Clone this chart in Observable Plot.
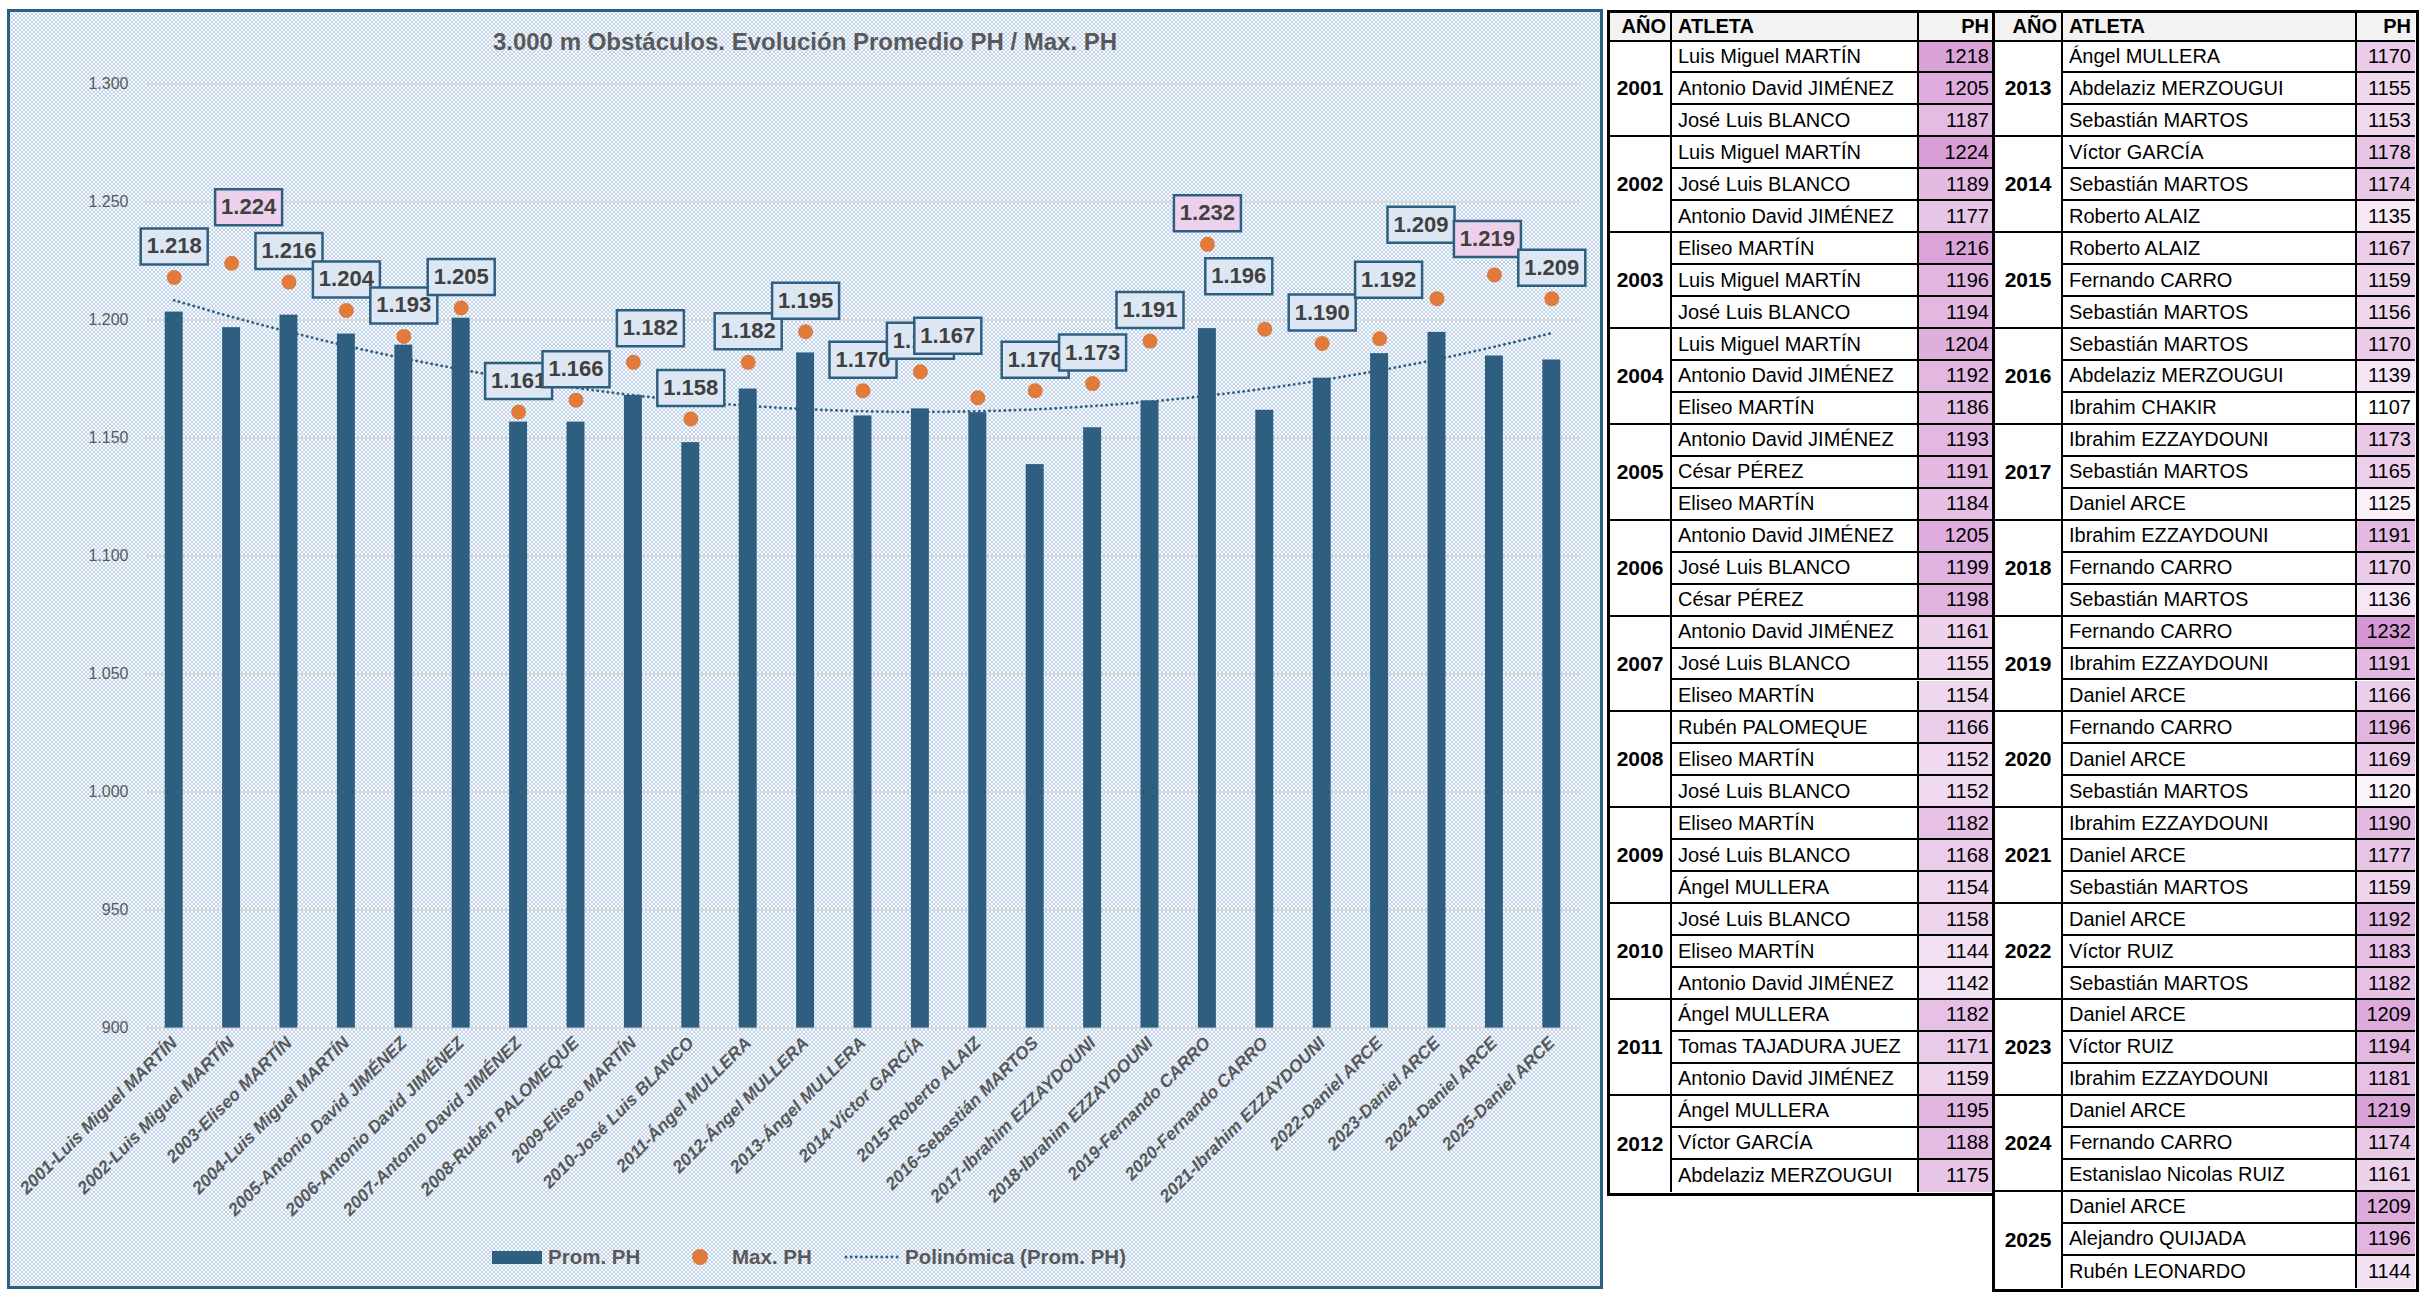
<!DOCTYPE html>
<html>
<head>
<meta charset="utf-8">
<script src="https://cdn.jsdelivr.net/npm/d3@7"></script>
<script src="https://cdn.jsdelivr.net/npm/@observablehq/plot@0.6"></script>
<style>
  html, body { margin: 0; padding: 0; background: #fff; }
  body { width: 2426px; height: 1306px; position: relative; overflow: hidden; font-family: "Liberation Sans", Arial, sans-serif; }
  #panel { position: absolute; left: 7px; top: 9px; width: 1590px; height: 1274px; border: 3px solid #2e5f80;
    background-color: #fbfcfe;
    background-image: radial-gradient(circle, #bfd2ea 0.75px, transparent 1px), radial-gradient(circle, #bfd2ea 0.75px, transparent 1px);
    background-size: 4px 4px, 4px 4px; background-position: 0 0, 2px 2px; }
  #title { position: absolute; left: 0; width: 1610px; top: 28px; text-align: center; font-weight: bold; font-size: 24px; color: #595959; }
  #chart { position: absolute; left: 0; top: 60px; }
  .leg { position: absolute; font-weight: bold; font-size: 20.5px; color: #595959; line-height: 24px; }
  .cell { position: absolute; box-sizing: border-box; font-size: 20px; color: #000; white-space: nowrap; display: flex; align-items: center; overflow: hidden; }
  .tbl { position: absolute; box-sizing: border-box; border: 3.5px solid #000; background: #fff; }
</style>
</head>
<body>
<div id="panel"></div>
<div id="title">3.000 m Obstáculos. Evolución Promedio PH / Max. PH</div>
<div id="chart"></div>
<div id="legend"></div>
<div id="tables"></div>
<script>
// ---------- DATA ----------
const years = [2001,2002,2003,2004,2005,2006,2007,2008,2009,2010,2011,2012,2013,2014,2015,2016,2017,2018,2019,2020,2021,2022,2023,2024,2025];
const xLabels = ["2001-Luis Miguel MARTÍN","2002-Luis Miguel MARTÍN","2003-Eliseo MARTÍN","2004-Luis Miguel MARTÍN","2005-Antonio David JIMÉNEZ","2006-Antonio David JIMÉNEZ","2007-Antonio David JIMÉNEZ","2008-Rubén PALOMEQUE","2009-Eliseo MARTÍN","2010-José Luis BLANCO","2011-Ángel MULLERA","2012-Ángel MULLERA","2013-Ángel MULLERA","2014-Víctor GARCÍA","2015-Roberto ALAIZ","2016-Sebastián MARTOS","2017-Ibrahim EZZAYDOUNI","2018-Ibrahim EZZAYDOUNI","2019-Fernando CARRO","2020-Fernando CARRO","2021-Ibrahim EZZAYDOUNI","2022-Daniel ARCE","2023-Daniel ARCE","2024-Daniel ARCE","2025-Daniel ARCE"];
const promPH = [1203.3,1196.7,1202.0,1194.0,1189.3,1200.7,1156.7,1156.7,1168.0,1148.0,1170.7,1186.0,1159.3,1162.3,1160.7,1138.7,1154.3,1165.7,1196.3,1161.7,1175.3,1185.7,1194.7,1184.7,1183.0];
const maxPH = [1218,1224,1216,1204,1193,1205,1161,1166,1182,1158,1182,1195,1170,1178,1167,1170,1173,1191,1232,1196,1190,1192,1209,1219,1209];
const trendPH = [1208.3,1201.3,1194.9,1189.0,1183.7,1179.0,1174.8,1171.2,1168.1,1165.6,1163.6,1162.2,1161.3,1161.0,1161.3,1162.1,1163.5,1165.4,1167.9,1170.9,1174.5,1178.6,1183.3,1188.6,1194.4];
const highlightYears = [2002, 2019, 2024];
const yTicks = [900,950,1000,1050,1100,1150,1200,1250,1300];

const athletes = [
 "Luis Miguel MARTÍN","Antonio David JIMÉNEZ","José Luis BLANCO",
 "Luis Miguel MARTÍN","José Luis BLANCO","Antonio David JIMÉNEZ",
 "Eliseo MARTÍN","Luis Miguel MARTÍN","José Luis BLANCO",
 "Luis Miguel MARTÍN","Antonio David JIMÉNEZ","Eliseo MARTÍN",
 "Antonio David JIMÉNEZ","César PÉREZ","Eliseo MARTÍN",
 "Antonio David JIMÉNEZ","José Luis BLANCO","César PÉREZ",
 "Antonio David JIMÉNEZ","José Luis BLANCO","Eliseo MARTÍN",
 "Rubén PALOMEQUE","Eliseo MARTÍN","José Luis BLANCO",
 "Eliseo MARTÍN","José Luis BLANCO","Ángel MULLERA",
 "José Luis BLANCO","Eliseo MARTÍN","Antonio David JIMÉNEZ",
 "Ángel MULLERA","Tomas TAJADURA JUEZ","Antonio David JIMÉNEZ",
 "Ángel MULLERA","Víctor GARCÍA","Abdelaziz MERZOUGUI",
 "Ángel MULLERA","Abdelaziz MERZOUGUI","Sebastián MARTOS",
 "Víctor GARCÍA","Sebastián MARTOS","Roberto ALAIZ",
 "Roberto ALAIZ","Fernando CARRO","Sebastián MARTOS",
 "Sebastián MARTOS","Abdelaziz MERZOUGUI","Ibrahim CHAKIR",
 "Ibrahim EZZAYDOUNI","Sebastián MARTOS","Daniel ARCE",
 "Ibrahim EZZAYDOUNI","Fernando CARRO","Sebastián MARTOS",
 "Fernando CARRO","Ibrahim EZZAYDOUNI","Daniel ARCE",
 "Fernando CARRO","Daniel ARCE","Sebastián MARTOS",
 "Ibrahim EZZAYDOUNI","Daniel ARCE","Sebastián MARTOS",
 "Daniel ARCE","Víctor RUIZ","Sebastián MARTOS",
 "Daniel ARCE","Víctor RUIZ","Ibrahim EZZAYDOUNI",
 "Daniel ARCE","Fernando CARRO","Estanislao Nicolas RUIZ",
 "Daniel ARCE","Alejandro QUIJADA","Rubén LEONARDO"
];
const marks = [
 1218,1205,1187, 1224,1189,1177, 1216,1196,1194, 1204,1192,1186, 1193,1191,1184,
 1205,1199,1198, 1161,1155,1154, 1166,1152,1152, 1182,1168,1154, 1158,1144,1142,
 1182,1171,1159, 1195,1188,1175, 1170,1155,1153, 1178,1174,1135, 1167,1159,1156,
 1170,1139,1107, 1173,1165,1125, 1191,1170,1136, 1232,1191,1166, 1196,1169,1120,
 1190,1177,1159, 1192,1183,1182, 1209,1194,1181, 1219,1174,1161, 1209,1196,1144
];

// ---------- LAYOUT (label nudges in px, as moved in the original) ----------
const labelShift = {2002:[17,-25], 2009:[17,-3], 2015:[-30,-31], 2020:[-26,-22], 2022:[9,-28], 2023:[-16,-43], 2024:[-7,-5]};

const loc = d3.formatLocale({decimal: ",", thousands: ".", grouping: [3], currency: ["", "€"]});
const fmt = loc.format(",");
const FONT = '"Liberation Sans", Arial, sans-serif';
const BLUE = "#2e5f80";

const rows = years.map((yr, i) => ({year: yr, label: xLabels[i], prom: promPH[i], max: maxPH[i], trend: trendPH[i]}));
const boxSymbol = {draw(ctx) { ctx.rect(-33.5, -18, 67, 36); }};

const labelMarks = rows.flatMap(d => {
  const [ox, oy] = labelShift[d.year] || [0, 0];
  const hi = highlightYears.includes(d.year);
  return [
    Plot.dot([d], {x: "label", y: "max", symbol: boxSymbol, r: 10, fill: hi ? "#ecd0ec" : "#dde7f3", stroke: BLUE, strokeWidth: 2.5, dx: ox, dy: -31 + oy}),
    Plot.text([d], {x: "label", y: "max", text: v => fmt(v.max), dx: ox, dy: -31 + oy, fontSize: 22, fontWeight: "bold", fill: "#404040"})
  ];
});

const svgH = 1180;
const chart = Plot.plot({
  width: 1600,
  height: svgH,
  marginLeft: 145,
  marginRight: 20,
  marginTop: 23.3,
  marginBottom: 212.4,
  style: {background: "transparent", fontFamily: FONT, overflow: "visible"},
  x: {type: "band", domain: xLabels, paddingInner: 0.687, paddingOuter: 0.3435, round: false, label: null},
  y: {domain: [900, 1300], label: null},
  marks: [
    Plot.gridY({ticks: yTicks, stroke: "#d9d9d9", strokeOpacity: 1, strokeWidth: 2}),
    Plot.axisY({ticks: yTicks, tickSize: 0, tickPadding: 17, tickFormat: fmt, fontSize: 16, fill: "#595959", label: null}),
    Plot.axisX({tickSize: 0, tickRotate: -45, tickPadding: 12, fontSize: 17.5, fontStyle: "italic", fontWeight: "bold", fill: "#595959", label: null}),
    Plot.barY(rows, {x: "label", y1: 900, y2: "prom", fill: BLUE}),
    Plot.line(rows, {x: "label", y: "trend", stroke: BLUE, strokeWidth: 2.8, strokeDasharray: "0.1 5", strokeLinecap: "round", curve: "catmull-rom"}),
    Plot.dot(rows, {x: "label", y: "max", r: 7.5, fill: "#e07b3c"}),
    ...labelMarks
  ]
});
document.getElementById("chart").appendChild(chart);

// ---------- LEGEND ----------
const legend = document.getElementById("legend");
legend.innerHTML = `
  <div style="position:absolute;left:492px;top:1251px;width:50px;height:13px;background:${BLUE}"></div>
  <div class="leg" style="left:548px;top:1245px">Prom. PH</div>
  <div style="position:absolute;left:692px;top:1249px;width:16px;height:16px;border-radius:50%;background:#e07b3c"></div>
  <div class="leg" style="left:732px;top:1245px">Max. PH</div>
  <svg style="position:absolute;left:842px;top:1250px" width="60" height="14"><line x1="4" x2="56" y1="7" y2="7" stroke="${BLUE}" stroke-width="2.8" stroke-dasharray="0.1 5" stroke-linecap="round"/></svg>
  <div class="leg" style="left:905px;top:1245px">Polinómica (Prom. PH)</div>`;

// ---------- TABLES ----------
const pink = d3.scaleLinear().domain([d3.min(marks), d3.max(marks)]).range(["#ffffff", "#d597d3"]);
const tables = document.getElementById("tables");
function cell(parent, x, y, w, h, opts) {
  const el = document.createElement("div");
  el.className = "cell";
  Object.assign(el.style, {left: x + "px", top: y + "px", width: w + "px", height: h + "px"}, opts.style || {});
  el.textContent = opts.text;
  parent.appendChild(el);
}
function buildTable(left, top, cols, yrIdx) {
  const headH = 28.5, rowH = 31.95, line = "2px solid #000";
  const innerW = cols[0] + cols[1] + cols[2];
  const innerH = headH + yrIdx.length * 3 * rowH;
  const t = document.createElement("div");
  t.className = "tbl";
  Object.assign(t.style, {left: left + "px", top: top + "px", width: (innerW + 7) + "px", height: (innerH + 7) + "px"});
  tables.appendChild(t);
  const xs = [0, cols[0], cols[0] + cols[1]];
  cell(t, xs[0], 0, cols[0], headH, {text: "AÑO", style: {fontWeight: "bold", justifyContent: "flex-end", paddingRight: "4px", borderRight: line, borderBottom: line, background: "#f2f2f2"}});
  cell(t, xs[1], 0, cols[1], headH, {text: "ATLETA", style: {fontWeight: "bold", paddingLeft: "6px", borderRight: line, borderBottom: line, background: "#f2f2f2"}});
  cell(t, xs[2], 0, cols[2], headH, {text: "PH", style: {fontWeight: "bold", justifyContent: "flex-end", paddingRight: "4px", borderBottom: line, background: "#f2f2f2"}});
  yrIdx.forEach((yi, gi) => {
    const y0 = headH + gi * 3 * rowH;
    const lastGroup = gi === yrIdx.length - 1;
    cell(t, xs[0], y0, cols[0], 3 * rowH, {text: String(years[yi]), style: {fontWeight: "bold", fontSize: "21px", justifyContent: "center", borderRight: line, borderBottom: lastGroup ? "none" : line}});
    for (let k = 0; k < 3; k++) {
      const idx = yi * 3 + k;
      const yy = y0 + k * rowH;
      const bb = (lastGroup && k === 2) ? "none" : line;
      cell(t, xs[1], yy, cols[1], rowH, {text: athletes[idx], style: {paddingLeft: "6px", borderRight: line, borderBottom: bb}});
      cell(t, xs[2], yy, cols[2], rowH, {text: String(marks[idx]), style: {justifyContent: "flex-end", paddingRight: "4px", borderBottom: bb, background: pink(marks[idx])}});
    }
  });
}
buildTable(1607, 10, [62, 247, 74], d3.range(0, 12));
buildTable(1992, 10, [68, 294, 58], d3.range(12, 25));
</script>
</body>
</html>
